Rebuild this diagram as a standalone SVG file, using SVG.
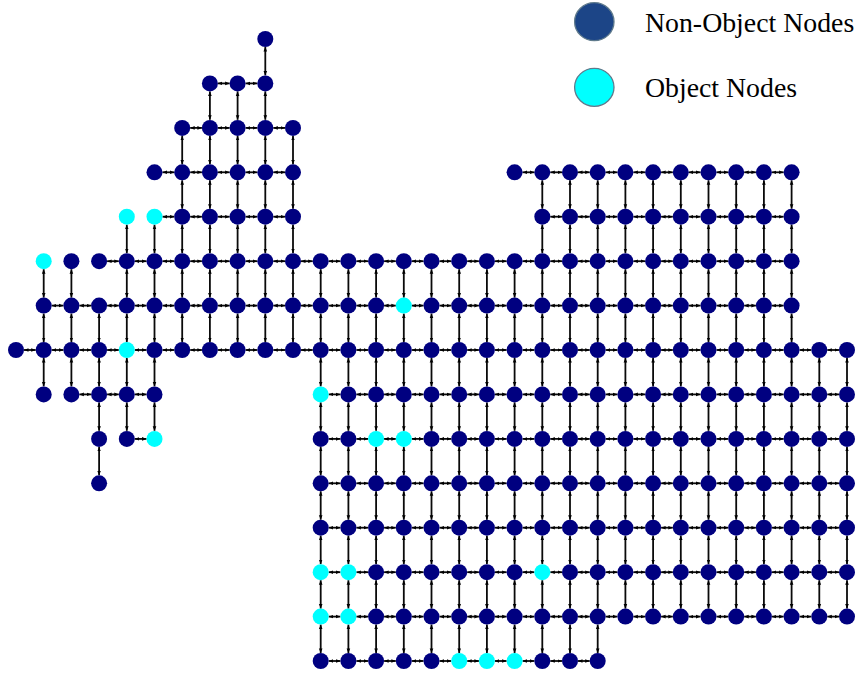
<svg xmlns="http://www.w3.org/2000/svg" width="857" height="675" viewBox="0 0 857 675">
<style>
.nd circle{fill:#000080}
.nd circle.o{fill:#00ffff}
#edges path{fill:none;stroke:#0a0a0a;stroke-width:1.8;marker-start:url(#ar);marker-end:url(#ar)}
.lg{font-family:"Liberation Serif","Times New Roman",serif;font-size:27.8px;fill:#000}
</style>
<defs>
<marker id="ar" viewBox="0 0 10 10" refX="10" refY="5" markerWidth="4.5" markerHeight="4.5" markerUnits="userSpaceOnUse" orient="auto-start-reverse"><path d="M0,1L10,5L0,9z" fill="#000"/></marker>
</defs>
<rect width="857" height="675" fill="#fff"/>
<g id="edges">
<g transform="translate(0,83.4)"><path d="M217.9 0h11.7"/><path d="M245.6 0h11.7"/></g>
<g transform="translate(0,127.9)"><path d="M190.2 0h11.7"/><path d="M217.9 0h11.7"/><path d="M245.6 0h11.7"/><path d="M273.3 0h11.7"/></g>
<g transform="translate(0,172.3)"><path d="M162.5 0h11.7"/><path d="M190.2 0h11.7"/><path d="M217.9 0h11.7"/><path d="M245.6 0h11.7"/><path d="M273.3 0h11.7"/><path d="M522.6 0h11.7"/><path d="M550.3 0h11.7"/><path d="M578 0h11.7"/><path d="M605.7 0h11.7"/><path d="M633.4 0h11.7"/><path d="M661.1 0h11.7"/><path d="M688.8 0h11.7"/><path d="M716.5 0h11.7"/><path d="M744.2 0h11.7"/><path d="M771.9 0h11.7"/></g>
<g transform="translate(0,216.7)"><path d="M162.5 0h11.7"/><path d="M190.2 0h11.7"/><path d="M217.9 0h11.7"/><path d="M245.6 0h11.7"/><path d="M273.3 0h11.7"/><path d="M550.3 0h11.7"/><path d="M578 0h11.7"/><path d="M605.7 0h11.7"/><path d="M633.4 0h11.7"/><path d="M661.1 0h11.7"/><path d="M688.8 0h11.7"/><path d="M716.5 0h11.7"/><path d="M744.2 0h11.7"/><path d="M771.9 0h11.7"/></g>
<g transform="translate(0,261.2)"><path d="M107.1 0h11.7"/><path d="M134.8 0h11.7"/><path d="M162.5 0h11.7"/><path d="M190.2 0h11.7"/><path d="M217.9 0h11.7"/><path d="M245.6 0h11.7"/><path d="M273.3 0h11.7"/><path d="M301 0h11.7"/><path d="M328.7 0h11.7"/><path d="M356.4 0h11.7"/><path d="M384.1 0h11.7"/><path d="M411.8 0h11.7"/><path d="M439.5 0h11.7"/><path d="M467.2 0h11.7"/><path d="M494.9 0h11.7"/><path d="M522.6 0h11.7"/><path d="M550.3 0h11.7"/><path d="M578 0h11.7"/><path d="M605.7 0h11.7"/><path d="M633.4 0h11.7"/><path d="M661.1 0h11.7"/><path d="M688.8 0h11.7"/><path d="M716.5 0h11.7"/><path d="M744.2 0h11.7"/><path d="M771.9 0h11.7"/></g>
<g transform="translate(0,305.6)"><path d="M51.7 0h11.7"/><path d="M79.4 0h11.7"/><path d="M107.1 0h11.7"/><path d="M134.8 0h11.7"/><path d="M162.5 0h11.7"/><path d="M190.2 0h11.7"/><path d="M217.9 0h11.7"/><path d="M245.6 0h11.7"/><path d="M273.3 0h11.7"/><path d="M301 0h11.7"/><path d="M328.7 0h11.7"/><path d="M356.4 0h11.7"/><path d="M384.1 0h11.7"/><path d="M411.8 0h11.7"/><path d="M439.5 0h11.7"/><path d="M467.2 0h11.7"/><path d="M494.9 0h11.7"/><path d="M522.6 0h11.7"/><path d="M550.3 0h11.7"/><path d="M578 0h11.7"/><path d="M605.7 0h11.7"/><path d="M633.4 0h11.7"/><path d="M661.1 0h11.7"/><path d="M688.8 0h11.7"/><path d="M716.5 0h11.7"/><path d="M744.2 0h11.7"/><path d="M771.9 0h11.7"/></g>
<g transform="translate(0,350)"><path d="M24 0h11.7"/><path d="M51.7 0h11.7"/><path d="M79.4 0h11.7"/><path d="M107.1 0h11.7"/><path d="M134.8 0h11.7"/><path d="M162.5 0h11.7"/><path d="M190.2 0h11.7"/><path d="M217.9 0h11.7"/><path d="M245.6 0h11.7"/><path d="M273.3 0h11.7"/><path d="M301 0h11.7"/><path d="M328.7 0h11.7"/><path d="M356.4 0h11.7"/><path d="M384.1 0h11.7"/><path d="M411.8 0h11.7"/><path d="M439.5 0h11.7"/><path d="M467.2 0h11.7"/><path d="M494.9 0h11.7"/><path d="M522.6 0h11.7"/><path d="M550.3 0h11.7"/><path d="M578 0h11.7"/><path d="M605.7 0h11.7"/><path d="M633.4 0h11.7"/><path d="M661.1 0h11.7"/><path d="M688.8 0h11.7"/><path d="M716.5 0h11.7"/><path d="M744.2 0h11.7"/><path d="M771.9 0h11.7"/><path d="M799.6 0h11.7"/><path d="M827.3 0h11.7"/></g>
<g transform="translate(0,394.4)"><path d="M79.4 0h11.7"/><path d="M107.1 0h11.7"/><path d="M134.8 0h11.7"/><path d="M328.7 0h11.7"/><path d="M356.4 0h11.7"/><path d="M384.1 0h11.7"/><path d="M411.8 0h11.7"/><path d="M439.5 0h11.7"/><path d="M467.2 0h11.7"/><path d="M494.9 0h11.7"/><path d="M522.6 0h11.7"/><path d="M550.3 0h11.7"/><path d="M578 0h11.7"/><path d="M605.7 0h11.7"/><path d="M633.4 0h11.7"/><path d="M661.1 0h11.7"/><path d="M688.8 0h11.7"/><path d="M716.5 0h11.7"/><path d="M744.2 0h11.7"/><path d="M771.9 0h11.7"/><path d="M799.6 0h11.7"/><path d="M827.3 0h11.7"/></g>
<g transform="translate(0,438.9)"><path d="M134.8 0h11.7"/><path d="M328.7 0h11.7"/><path d="M356.4 0h11.7"/><path d="M384.1 0h11.7"/><path d="M411.8 0h11.7"/><path d="M439.5 0h11.7"/><path d="M467.2 0h11.7"/><path d="M494.9 0h11.7"/><path d="M522.6 0h11.7"/><path d="M550.3 0h11.7"/><path d="M578 0h11.7"/><path d="M605.7 0h11.7"/><path d="M633.4 0h11.7"/><path d="M661.1 0h11.7"/><path d="M688.8 0h11.7"/><path d="M716.5 0h11.7"/><path d="M744.2 0h11.7"/><path d="M771.9 0h11.7"/><path d="M799.6 0h11.7"/><path d="M827.3 0h11.7"/></g>
<g transform="translate(0,483.3)"><path d="M328.7 0h11.7"/><path d="M356.4 0h11.7"/><path d="M384.1 0h11.7"/><path d="M411.8 0h11.7"/><path d="M439.5 0h11.7"/><path d="M467.2 0h11.7"/><path d="M494.9 0h11.7"/><path d="M522.6 0h11.7"/><path d="M550.3 0h11.7"/><path d="M578 0h11.7"/><path d="M605.7 0h11.7"/><path d="M633.4 0h11.7"/><path d="M661.1 0h11.7"/><path d="M688.8 0h11.7"/><path d="M716.5 0h11.7"/><path d="M744.2 0h11.7"/><path d="M771.9 0h11.7"/><path d="M799.6 0h11.7"/><path d="M827.3 0h11.7"/></g>
<g transform="translate(0,527.7)"><path d="M328.7 0h11.7"/><path d="M356.4 0h11.7"/><path d="M384.1 0h11.7"/><path d="M411.8 0h11.7"/><path d="M439.5 0h11.7"/><path d="M467.2 0h11.7"/><path d="M494.9 0h11.7"/><path d="M522.6 0h11.7"/><path d="M550.3 0h11.7"/><path d="M578 0h11.7"/><path d="M605.7 0h11.7"/><path d="M633.4 0h11.7"/><path d="M661.1 0h11.7"/><path d="M688.8 0h11.7"/><path d="M716.5 0h11.7"/><path d="M744.2 0h11.7"/><path d="M771.9 0h11.7"/><path d="M799.6 0h11.7"/><path d="M827.3 0h11.7"/></g>
<g transform="translate(0,572.2)"><path d="M328.7 0h11.7"/><path d="M356.4 0h11.7"/><path d="M384.1 0h11.7"/><path d="M411.8 0h11.7"/><path d="M439.5 0h11.7"/><path d="M467.2 0h11.7"/><path d="M494.9 0h11.7"/><path d="M522.6 0h11.7"/><path d="M550.3 0h11.7"/><path d="M578 0h11.7"/><path d="M605.7 0h11.7"/><path d="M633.4 0h11.7"/><path d="M661.1 0h11.7"/><path d="M688.8 0h11.7"/><path d="M716.5 0h11.7"/><path d="M744.2 0h11.7"/><path d="M771.9 0h11.7"/><path d="M799.6 0h11.7"/><path d="M827.3 0h11.7"/></g>
<g transform="translate(0,616.6)"><path d="M328.7 0h11.7"/><path d="M356.4 0h11.7"/><path d="M384.1 0h11.7"/><path d="M411.8 0h11.7"/><path d="M439.5 0h11.7"/><path d="M467.2 0h11.7"/><path d="M494.9 0h11.7"/><path d="M522.6 0h11.7"/><path d="M550.3 0h11.7"/><path d="M578 0h11.7"/><path d="M605.7 0h11.7"/><path d="M633.4 0h11.7"/><path d="M661.1 0h11.7"/><path d="M688.8 0h11.7"/><path d="M716.5 0h11.7"/><path d="M744.2 0h11.7"/><path d="M771.9 0h11.7"/><path d="M799.6 0h11.7"/><path d="M827.3 0h11.7"/></g>
<g transform="translate(0,661)"><path d="M328.7 0h11.7"/><path d="M356.4 0h11.7"/><path d="M384.1 0h11.7"/><path d="M411.8 0h11.7"/><path d="M439.5 0h11.7"/><path d="M467.2 0h11.7"/><path d="M494.9 0h11.7"/><path d="M522.6 0h11.7"/><path d="M550.3 0h11.7"/><path d="M578 0h11.7"/></g>
<g transform="translate(0,47)"><path d="M265.3 0v28.4"/></g>
<g transform="translate(0,91.4)"><path d="M209.9 0v28.4"/><path d="M237.6 0v28.4"/><path d="M265.3 0v28.4"/></g>
<g transform="translate(0,135.9)"><path d="M182.2 0v28.4"/><path d="M209.9 0v28.4"/><path d="M237.6 0v28.4"/><path d="M265.3 0v28.4"/><path d="M293 0v28.4"/></g>
<g transform="translate(0,180.3)"><path d="M182.2 0v28.4"/><path d="M209.9 0v28.4"/><path d="M237.6 0v28.4"/><path d="M265.3 0v28.4"/><path d="M293 0v28.4"/><path d="M542.3 0v28.4"/><path d="M570 0v28.4"/><path d="M597.7 0v28.4"/><path d="M625.4 0v28.4"/><path d="M653.1 0v28.4"/><path d="M680.8 0v28.4"/><path d="M708.5 0v28.4"/><path d="M736.2 0v28.4"/><path d="M763.9 0v28.4"/><path d="M791.6 0v28.4"/></g>
<g transform="translate(0,224.7)"><path d="M126.8 0v28.4"/><path d="M154.5 0v28.4"/><path d="M182.2 0v28.4"/><path d="M209.9 0v28.4"/><path d="M237.6 0v28.4"/><path d="M265.3 0v28.4"/><path d="M293 0v28.4"/><path d="M542.3 0v28.4"/><path d="M570 0v28.4"/><path d="M597.7 0v28.4"/><path d="M625.4 0v28.4"/><path d="M653.1 0v28.4"/><path d="M680.8 0v28.4"/><path d="M708.5 0v28.4"/><path d="M736.2 0v28.4"/><path d="M763.9 0v28.4"/><path d="M791.6 0v28.4"/></g>
<g transform="translate(0,269.2)"><path d="M43.7 0v28.4"/><path d="M71.4 0v28.4"/><path d="M126.8 0v28.4"/><path d="M154.5 0v28.4"/><path d="M182.2 0v28.4"/><path d="M209.9 0v28.4"/><path d="M237.6 0v28.4"/><path d="M265.3 0v28.4"/><path d="M293 0v28.4"/><path d="M320.7 0v28.4"/><path d="M348.4 0v28.4"/><path d="M376.1 0v28.4"/><path d="M403.8 0v28.4"/><path d="M431.5 0v28.4"/><path d="M459.2 0v28.4"/><path d="M486.9 0v28.4"/><path d="M514.6 0v28.4"/><path d="M542.3 0v28.4"/><path d="M570 0v28.4"/><path d="M597.7 0v28.4"/><path d="M625.4 0v28.4"/><path d="M653.1 0v28.4"/><path d="M680.8 0v28.4"/><path d="M708.5 0v28.4"/><path d="M736.2 0v28.4"/><path d="M763.9 0v28.4"/><path d="M791.6 0v28.4"/></g>
<g transform="translate(0,313.6)"><path d="M43.7 0v28.4"/><path d="M71.4 0v28.4"/><path d="M99.1 0v28.4"/><path d="M126.8 0v28.4"/><path d="M154.5 0v28.4"/><path d="M182.2 0v28.4"/><path d="M209.9 0v28.4"/><path d="M237.6 0v28.4"/><path d="M265.3 0v28.4"/><path d="M293 0v28.4"/><path d="M320.7 0v28.4"/><path d="M348.4 0v28.4"/><path d="M376.1 0v28.4"/><path d="M403.8 0v28.4"/><path d="M431.5 0v28.4"/><path d="M459.2 0v28.4"/><path d="M486.9 0v28.4"/><path d="M514.6 0v28.4"/><path d="M542.3 0v28.4"/><path d="M570 0v28.4"/><path d="M597.7 0v28.4"/><path d="M625.4 0v28.4"/><path d="M653.1 0v28.4"/><path d="M680.8 0v28.4"/><path d="M708.5 0v28.4"/><path d="M736.2 0v28.4"/><path d="M763.9 0v28.4"/><path d="M791.6 0v28.4"/></g>
<g transform="translate(0,358)"><path d="M43.7 0v28.4"/><path d="M71.4 0v28.4"/><path d="M99.1 0v28.4"/><path d="M126.8 0v28.4"/><path d="M154.5 0v28.4"/><path d="M320.7 0v28.4"/><path d="M348.4 0v28.4"/><path d="M376.1 0v28.4"/><path d="M403.8 0v28.4"/><path d="M431.5 0v28.4"/><path d="M459.2 0v28.4"/><path d="M486.9 0v28.4"/><path d="M514.6 0v28.4"/><path d="M542.3 0v28.4"/><path d="M570 0v28.4"/><path d="M597.7 0v28.4"/><path d="M625.4 0v28.4"/><path d="M653.1 0v28.4"/><path d="M680.8 0v28.4"/><path d="M708.5 0v28.4"/><path d="M736.2 0v28.4"/><path d="M763.9 0v28.4"/><path d="M791.6 0v28.4"/><path d="M819.3 0v28.4"/><path d="M847 0v28.4"/></g>
<g transform="translate(0,402.4)"><path d="M99.1 0v28.4"/><path d="M126.8 0v28.4"/><path d="M154.5 0v28.4"/><path d="M320.7 0v28.4"/><path d="M348.4 0v28.4"/><path d="M376.1 0v28.4"/><path d="M403.8 0v28.4"/><path d="M431.5 0v28.4"/><path d="M459.2 0v28.4"/><path d="M486.9 0v28.4"/><path d="M514.6 0v28.4"/><path d="M542.3 0v28.4"/><path d="M570 0v28.4"/><path d="M597.7 0v28.4"/><path d="M625.4 0v28.4"/><path d="M653.1 0v28.4"/><path d="M680.8 0v28.4"/><path d="M708.5 0v28.4"/><path d="M736.2 0v28.4"/><path d="M763.9 0v28.4"/><path d="M791.6 0v28.4"/><path d="M819.3 0v28.4"/><path d="M847 0v28.4"/></g>
<g transform="translate(0,446.9)"><path d="M99.1 0v28.4"/><path d="M320.7 0v28.4"/><path d="M348.4 0v28.4"/><path d="M376.1 0v28.4"/><path d="M403.8 0v28.4"/><path d="M431.5 0v28.4"/><path d="M459.2 0v28.4"/><path d="M486.9 0v28.4"/><path d="M514.6 0v28.4"/><path d="M542.3 0v28.4"/><path d="M570 0v28.4"/><path d="M597.7 0v28.4"/><path d="M625.4 0v28.4"/><path d="M653.1 0v28.4"/><path d="M680.8 0v28.4"/><path d="M708.5 0v28.4"/><path d="M736.2 0v28.4"/><path d="M763.9 0v28.4"/><path d="M791.6 0v28.4"/><path d="M819.3 0v28.4"/><path d="M847 0v28.4"/></g>
<g transform="translate(0,491.3)"><path d="M320.7 0v28.4"/><path d="M348.4 0v28.4"/><path d="M376.1 0v28.4"/><path d="M403.8 0v28.4"/><path d="M431.5 0v28.4"/><path d="M459.2 0v28.4"/><path d="M486.9 0v28.4"/><path d="M514.6 0v28.4"/><path d="M542.3 0v28.4"/><path d="M570 0v28.4"/><path d="M597.7 0v28.4"/><path d="M625.4 0v28.4"/><path d="M653.1 0v28.4"/><path d="M680.8 0v28.4"/><path d="M708.5 0v28.4"/><path d="M736.2 0v28.4"/><path d="M763.9 0v28.4"/><path d="M791.6 0v28.4"/><path d="M819.3 0v28.4"/><path d="M847 0v28.4"/></g>
<g transform="translate(0,535.7)"><path d="M320.7 0v28.4"/><path d="M348.4 0v28.4"/><path d="M376.1 0v28.4"/><path d="M403.8 0v28.4"/><path d="M431.5 0v28.4"/><path d="M459.2 0v28.4"/><path d="M486.9 0v28.4"/><path d="M514.6 0v28.4"/><path d="M542.3 0v28.4"/><path d="M570 0v28.4"/><path d="M597.7 0v28.4"/><path d="M625.4 0v28.4"/><path d="M653.1 0v28.4"/><path d="M680.8 0v28.4"/><path d="M708.5 0v28.4"/><path d="M736.2 0v28.4"/><path d="M763.9 0v28.4"/><path d="M791.6 0v28.4"/><path d="M819.3 0v28.4"/><path d="M847 0v28.4"/></g>
<g transform="translate(0,580.2)"><path d="M320.7 0v28.4"/><path d="M348.4 0v28.4"/><path d="M376.1 0v28.4"/><path d="M403.8 0v28.4"/><path d="M431.5 0v28.4"/><path d="M459.2 0v28.4"/><path d="M486.9 0v28.4"/><path d="M514.6 0v28.4"/><path d="M542.3 0v28.4"/><path d="M570 0v28.4"/><path d="M597.7 0v28.4"/><path d="M625.4 0v28.4"/><path d="M653.1 0v28.4"/><path d="M680.8 0v28.4"/><path d="M708.5 0v28.4"/><path d="M736.2 0v28.4"/><path d="M763.9 0v28.4"/><path d="M791.6 0v28.4"/><path d="M819.3 0v28.4"/><path d="M847 0v28.4"/></g>
<g transform="translate(0,624.6)"><path d="M320.7 0v28.4"/><path d="M348.4 0v28.4"/><path d="M376.1 0v28.4"/><path d="M403.8 0v28.4"/><path d="M431.5 0v28.4"/><path d="M459.2 0v28.4"/><path d="M486.9 0v28.4"/><path d="M514.6 0v28.4"/><path d="M542.3 0v28.4"/><path d="M570 0v28.4"/><path d="M597.7 0v28.4"/></g>
</g>
<g class="nd">
<g id="n9_0"><circle cx="265.3" cy="39" r="8"/></g>
<g id="n7_1"><circle cx="209.9" cy="83.4" r="8"/></g><g id="n8_1"><circle cx="237.6" cy="83.4" r="8"/></g><g id="n9_1"><circle cx="265.3" cy="83.4" r="8"/></g>
<g id="n6_2"><circle cx="182.2" cy="127.9" r="8"/></g><g id="n7_2"><circle cx="209.9" cy="127.9" r="8"/></g><g id="n8_2"><circle cx="237.6" cy="127.9" r="8"/></g><g id="n9_2"><circle cx="265.3" cy="127.9" r="8"/></g><g id="n10_2"><circle cx="293" cy="127.9" r="8"/></g>
<g id="n5_3"><circle cx="154.5" cy="172.3" r="8"/></g><g id="n6_3"><circle cx="182.2" cy="172.3" r="8"/></g><g id="n7_3"><circle cx="209.9" cy="172.3" r="8"/></g><g id="n8_3"><circle cx="237.6" cy="172.3" r="8"/></g><g id="n9_3"><circle cx="265.3" cy="172.3" r="8"/></g><g id="n10_3"><circle cx="293" cy="172.3" r="8"/></g>
<g id="n18_3"><circle cx="514.6" cy="172.3" r="8"/></g><g id="n19_3"><circle cx="542.3" cy="172.3" r="8"/></g><g id="n20_3"><circle cx="570" cy="172.3" r="8"/></g><g id="n21_3"><circle cx="597.7" cy="172.3" r="8"/></g><g id="n22_3"><circle cx="625.4" cy="172.3" r="8"/></g><g id="n23_3"><circle cx="653.1" cy="172.3" r="8"/></g><g id="n24_3"><circle cx="680.8" cy="172.3" r="8"/></g><g id="n25_3"><circle cx="708.5" cy="172.3" r="8"/></g><g id="n26_3"><circle cx="736.2" cy="172.3" r="8"/></g><g id="n27_3"><circle cx="763.9" cy="172.3" r="8"/></g><g id="n28_3"><circle cx="791.6" cy="172.3" r="8"/></g>
<g id="n4_4"><circle class="o" cx="126.8" cy="216.7" r="8"/></g><g id="n5_4"><circle class="o" cx="154.5" cy="216.7" r="8"/></g><g id="n6_4"><circle cx="182.2" cy="216.7" r="8"/></g><g id="n7_4"><circle cx="209.9" cy="216.7" r="8"/></g><g id="n8_4"><circle cx="237.6" cy="216.7" r="8"/></g><g id="n9_4"><circle cx="265.3" cy="216.7" r="8"/></g><g id="n10_4"><circle cx="293" cy="216.7" r="8"/></g>
<g id="n19_4"><circle cx="542.3" cy="216.7" r="8"/></g><g id="n20_4"><circle cx="570" cy="216.7" r="8"/></g><g id="n21_4"><circle cx="597.7" cy="216.7" r="8"/></g><g id="n22_4"><circle cx="625.4" cy="216.7" r="8"/></g><g id="n23_4"><circle cx="653.1" cy="216.7" r="8"/></g><g id="n24_4"><circle cx="680.8" cy="216.7" r="8"/></g><g id="n25_4"><circle cx="708.5" cy="216.7" r="8"/></g><g id="n26_4"><circle cx="736.2" cy="216.7" r="8"/></g><g id="n27_4"><circle cx="763.9" cy="216.7" r="8"/></g><g id="n28_4"><circle cx="791.6" cy="216.7" r="8"/></g>
<g id="n1_5"><circle class="o" cx="43.7" cy="261.2" r="8"/></g><g id="n2_5"><circle cx="71.4" cy="261.2" r="8"/></g><g id="n3_5"><circle cx="99.1" cy="261.2" r="8"/></g><g id="n4_5"><circle cx="126.8" cy="261.2" r="8"/></g><g id="n5_5"><circle cx="154.5" cy="261.2" r="8"/></g><g id="n6_5"><circle cx="182.2" cy="261.2" r="8"/></g><g id="n7_5"><circle cx="209.9" cy="261.2" r="8"/></g><g id="n8_5"><circle cx="237.6" cy="261.2" r="8"/></g><g id="n9_5"><circle cx="265.3" cy="261.2" r="8"/></g><g id="n10_5"><circle cx="293" cy="261.2" r="8"/></g><g id="n11_5"><circle cx="320.7" cy="261.2" r="8"/></g><g id="n12_5"><circle cx="348.4" cy="261.2" r="8"/></g><g id="n13_5"><circle cx="376.1" cy="261.2" r="8"/></g><g id="n14_5"><circle cx="403.8" cy="261.2" r="8"/></g><g id="n15_5"><circle cx="431.5" cy="261.2" r="8"/></g><g id="n16_5"><circle cx="459.2" cy="261.2" r="8"/></g><g id="n17_5"><circle cx="486.9" cy="261.2" r="8"/></g><g id="n18_5"><circle cx="514.6" cy="261.2" r="8"/></g><g id="n19_5"><circle cx="542.3" cy="261.2" r="8"/></g><g id="n20_5"><circle cx="570" cy="261.2" r="8"/></g><g id="n21_5"><circle cx="597.7" cy="261.2" r="8"/></g><g id="n22_5"><circle cx="625.4" cy="261.2" r="8"/></g><g id="n23_5"><circle cx="653.1" cy="261.2" r="8"/></g><g id="n24_5"><circle cx="680.8" cy="261.2" r="8"/></g><g id="n25_5"><circle cx="708.5" cy="261.2" r="8"/></g><g id="n26_5"><circle cx="736.2" cy="261.2" r="8"/></g><g id="n27_5"><circle cx="763.9" cy="261.2" r="8"/></g><g id="n28_5"><circle cx="791.6" cy="261.2" r="8"/></g>
<g id="n1_6"><circle cx="43.7" cy="305.6" r="8"/></g><g id="n2_6"><circle cx="71.4" cy="305.6" r="8"/></g><g id="n3_6"><circle cx="99.1" cy="305.6" r="8"/></g><g id="n4_6"><circle cx="126.8" cy="305.6" r="8"/></g><g id="n5_6"><circle cx="154.5" cy="305.6" r="8"/></g><g id="n6_6"><circle cx="182.2" cy="305.6" r="8"/></g><g id="n7_6"><circle cx="209.9" cy="305.6" r="8"/></g><g id="n8_6"><circle cx="237.6" cy="305.6" r="8"/></g><g id="n9_6"><circle cx="265.3" cy="305.6" r="8"/></g><g id="n10_6"><circle cx="293" cy="305.6" r="8"/></g><g id="n11_6"><circle cx="320.7" cy="305.6" r="8"/></g><g id="n12_6"><circle cx="348.4" cy="305.6" r="8"/></g><g id="n13_6"><circle cx="376.1" cy="305.6" r="8"/></g><g id="n14_6"><circle class="o" cx="403.8" cy="305.6" r="8"/></g><g id="n15_6"><circle cx="431.5" cy="305.6" r="8"/></g><g id="n16_6"><circle cx="459.2" cy="305.6" r="8"/></g><g id="n17_6"><circle cx="486.9" cy="305.6" r="8"/></g><g id="n18_6"><circle cx="514.6" cy="305.6" r="8"/></g><g id="n19_6"><circle cx="542.3" cy="305.6" r="8"/></g><g id="n20_6"><circle cx="570" cy="305.6" r="8"/></g><g id="n21_6"><circle cx="597.7" cy="305.6" r="8"/></g><g id="n22_6"><circle cx="625.4" cy="305.6" r="8"/></g><g id="n23_6"><circle cx="653.1" cy="305.6" r="8"/></g><g id="n24_6"><circle cx="680.8" cy="305.6" r="8"/></g><g id="n25_6"><circle cx="708.5" cy="305.6" r="8"/></g><g id="n26_6"><circle cx="736.2" cy="305.6" r="8"/></g><g id="n27_6"><circle cx="763.9" cy="305.6" r="8"/></g><g id="n28_6"><circle cx="791.6" cy="305.6" r="8"/></g>
<g id="n0_7"><circle cx="16" cy="350" r="8"/></g><g id="n1_7"><circle cx="43.7" cy="350" r="8"/></g><g id="n2_7"><circle cx="71.4" cy="350" r="8"/></g><g id="n3_7"><circle cx="99.1" cy="350" r="8"/></g><g id="n4_7"><circle class="o" cx="126.8" cy="350" r="8"/></g><g id="n5_7"><circle cx="154.5" cy="350" r="8"/></g><g id="n6_7"><circle cx="182.2" cy="350" r="8"/></g><g id="n7_7"><circle cx="209.9" cy="350" r="8"/></g><g id="n8_7"><circle cx="237.6" cy="350" r="8"/></g><g id="n9_7"><circle cx="265.3" cy="350" r="8"/></g><g id="n10_7"><circle cx="293" cy="350" r="8"/></g><g id="n11_7"><circle cx="320.7" cy="350" r="8"/></g><g id="n12_7"><circle cx="348.4" cy="350" r="8"/></g><g id="n13_7"><circle cx="376.1" cy="350" r="8"/></g><g id="n14_7"><circle cx="403.8" cy="350" r="8"/></g><g id="n15_7"><circle cx="431.5" cy="350" r="8"/></g><g id="n16_7"><circle cx="459.2" cy="350" r="8"/></g><g id="n17_7"><circle cx="486.9" cy="350" r="8"/></g><g id="n18_7"><circle cx="514.6" cy="350" r="8"/></g><g id="n19_7"><circle cx="542.3" cy="350" r="8"/></g><g id="n20_7"><circle cx="570" cy="350" r="8"/></g><g id="n21_7"><circle cx="597.7" cy="350" r="8"/></g><g id="n22_7"><circle cx="625.4" cy="350" r="8"/></g><g id="n23_7"><circle cx="653.1" cy="350" r="8"/></g><g id="n24_7"><circle cx="680.8" cy="350" r="8"/></g><g id="n25_7"><circle cx="708.5" cy="350" r="8"/></g><g id="n26_7"><circle cx="736.2" cy="350" r="8"/></g><g id="n27_7"><circle cx="763.9" cy="350" r="8"/></g><g id="n28_7"><circle cx="791.6" cy="350" r="8"/></g><g id="n29_7"><circle cx="819.3" cy="350" r="8"/></g><g id="n30_7"><circle cx="847" cy="350" r="8"/></g>
<g id="n1_8"><circle cx="43.7" cy="394.4" r="8"/></g><g id="n2_8"><circle cx="71.4" cy="394.4" r="8"/></g><g id="n3_8"><circle cx="99.1" cy="394.4" r="8"/></g><g id="n4_8"><circle cx="126.8" cy="394.4" r="8"/></g><g id="n5_8"><circle cx="154.5" cy="394.4" r="8"/></g><g id="n11_8"><circle class="o" cx="320.7" cy="394.4" r="8"/></g><g id="n12_8"><circle cx="348.4" cy="394.4" r="8"/></g><g id="n13_8"><circle cx="376.1" cy="394.4" r="8"/></g><g id="n14_8"><circle cx="403.8" cy="394.4" r="8"/></g><g id="n15_8"><circle cx="431.5" cy="394.4" r="8"/></g><g id="n16_8"><circle cx="459.2" cy="394.4" r="8"/></g><g id="n17_8"><circle cx="486.9" cy="394.4" r="8"/></g><g id="n18_8"><circle cx="514.6" cy="394.4" r="8"/></g><g id="n19_8"><circle cx="542.3" cy="394.4" r="8"/></g><g id="n20_8"><circle cx="570" cy="394.4" r="8"/></g><g id="n21_8"><circle cx="597.7" cy="394.4" r="8"/></g><g id="n22_8"><circle cx="625.4" cy="394.4" r="8"/></g><g id="n23_8"><circle cx="653.1" cy="394.4" r="8"/></g><g id="n24_8"><circle cx="680.8" cy="394.4" r="8"/></g><g id="n25_8"><circle cx="708.5" cy="394.4" r="8"/></g><g id="n26_8"><circle cx="736.2" cy="394.4" r="8"/></g><g id="n27_8"><circle cx="763.9" cy="394.4" r="8"/></g><g id="n28_8"><circle cx="791.6" cy="394.4" r="8"/></g><g id="n29_8"><circle cx="819.3" cy="394.4" r="8"/></g><g id="n30_8"><circle cx="847" cy="394.4" r="8"/></g>
<g id="n3_9"><circle cx="99.1" cy="438.9" r="8"/></g><g id="n4_9"><circle cx="126.8" cy="438.9" r="8"/></g><g id="n5_9"><circle class="o" cx="154.5" cy="438.9" r="8"/></g><g id="n11_9"><circle cx="320.7" cy="438.9" r="8"/></g><g id="n12_9"><circle cx="348.4" cy="438.9" r="8"/></g><g id="n13_9"><circle class="o" cx="376.1" cy="438.9" r="8"/></g><g id="n14_9"><circle class="o" cx="403.8" cy="438.9" r="8"/></g><g id="n15_9"><circle cx="431.5" cy="438.9" r="8"/></g><g id="n16_9"><circle cx="459.2" cy="438.9" r="8"/></g><g id="n17_9"><circle cx="486.9" cy="438.9" r="8"/></g><g id="n18_9"><circle cx="514.6" cy="438.9" r="8"/></g><g id="n19_9"><circle cx="542.3" cy="438.9" r="8"/></g><g id="n20_9"><circle cx="570" cy="438.9" r="8"/></g><g id="n21_9"><circle cx="597.7" cy="438.9" r="8"/></g><g id="n22_9"><circle cx="625.4" cy="438.9" r="8"/></g><g id="n23_9"><circle cx="653.1" cy="438.9" r="8"/></g><g id="n24_9"><circle cx="680.8" cy="438.9" r="8"/></g><g id="n25_9"><circle cx="708.5" cy="438.9" r="8"/></g><g id="n26_9"><circle cx="736.2" cy="438.9" r="8"/></g><g id="n27_9"><circle cx="763.9" cy="438.9" r="8"/></g><g id="n28_9"><circle cx="791.6" cy="438.9" r="8"/></g><g id="n29_9"><circle cx="819.3" cy="438.9" r="8"/></g><g id="n30_9"><circle cx="847" cy="438.9" r="8"/></g>
<g id="n3_10"><circle cx="99.1" cy="483.3" r="8"/></g><g id="n11_10"><circle cx="320.7" cy="483.3" r="8"/></g><g id="n12_10"><circle cx="348.4" cy="483.3" r="8"/></g><g id="n13_10"><circle cx="376.1" cy="483.3" r="8"/></g><g id="n14_10"><circle cx="403.8" cy="483.3" r="8"/></g><g id="n15_10"><circle cx="431.5" cy="483.3" r="8"/></g><g id="n16_10"><circle cx="459.2" cy="483.3" r="8"/></g><g id="n17_10"><circle cx="486.9" cy="483.3" r="8"/></g><g id="n18_10"><circle cx="514.6" cy="483.3" r="8"/></g><g id="n19_10"><circle cx="542.3" cy="483.3" r="8"/></g><g id="n20_10"><circle cx="570" cy="483.3" r="8"/></g><g id="n21_10"><circle cx="597.7" cy="483.3" r="8"/></g><g id="n22_10"><circle cx="625.4" cy="483.3" r="8"/></g><g id="n23_10"><circle cx="653.1" cy="483.3" r="8"/></g><g id="n24_10"><circle cx="680.8" cy="483.3" r="8"/></g><g id="n25_10"><circle cx="708.5" cy="483.3" r="8"/></g><g id="n26_10"><circle cx="736.2" cy="483.3" r="8"/></g><g id="n27_10"><circle cx="763.9" cy="483.3" r="8"/></g><g id="n28_10"><circle cx="791.6" cy="483.3" r="8"/></g><g id="n29_10"><circle cx="819.3" cy="483.3" r="8"/></g><g id="n30_10"><circle cx="847" cy="483.3" r="8"/></g>
<g id="n11_11"><circle cx="320.7" cy="527.7" r="8"/></g><g id="n12_11"><circle cx="348.4" cy="527.7" r="8"/></g><g id="n13_11"><circle cx="376.1" cy="527.7" r="8"/></g><g id="n14_11"><circle cx="403.8" cy="527.7" r="8"/></g><g id="n15_11"><circle cx="431.5" cy="527.7" r="8"/></g><g id="n16_11"><circle cx="459.2" cy="527.7" r="8"/></g><g id="n17_11"><circle cx="486.9" cy="527.7" r="8"/></g><g id="n18_11"><circle cx="514.6" cy="527.7" r="8"/></g><g id="n19_11"><circle cx="542.3" cy="527.7" r="8"/></g><g id="n20_11"><circle cx="570" cy="527.7" r="8"/></g><g id="n21_11"><circle cx="597.7" cy="527.7" r="8"/></g><g id="n22_11"><circle cx="625.4" cy="527.7" r="8"/></g><g id="n23_11"><circle cx="653.1" cy="527.7" r="8"/></g><g id="n24_11"><circle cx="680.8" cy="527.7" r="8"/></g><g id="n25_11"><circle cx="708.5" cy="527.7" r="8"/></g><g id="n26_11"><circle cx="736.2" cy="527.7" r="8"/></g><g id="n27_11"><circle cx="763.9" cy="527.7" r="8"/></g><g id="n28_11"><circle cx="791.6" cy="527.7" r="8"/></g><g id="n29_11"><circle cx="819.3" cy="527.7" r="8"/></g><g id="n30_11"><circle cx="847" cy="527.7" r="8"/></g>
<g id="n11_12"><circle class="o" cx="320.7" cy="572.2" r="8"/></g><g id="n12_12"><circle class="o" cx="348.4" cy="572.2" r="8"/></g><g id="n13_12"><circle cx="376.1" cy="572.2" r="8"/></g><g id="n14_12"><circle cx="403.8" cy="572.2" r="8"/></g><g id="n15_12"><circle cx="431.5" cy="572.2" r="8"/></g><g id="n16_12"><circle cx="459.2" cy="572.2" r="8"/></g><g id="n17_12"><circle cx="486.9" cy="572.2" r="8"/></g><g id="n18_12"><circle cx="514.6" cy="572.2" r="8"/></g><g id="n19_12"><circle class="o" cx="542.3" cy="572.2" r="8"/></g><g id="n20_12"><circle cx="570" cy="572.2" r="8"/></g><g id="n21_12"><circle cx="597.7" cy="572.2" r="8"/></g><g id="n22_12"><circle cx="625.4" cy="572.2" r="8"/></g><g id="n23_12"><circle cx="653.1" cy="572.2" r="8"/></g><g id="n24_12"><circle cx="680.8" cy="572.2" r="8"/></g><g id="n25_12"><circle cx="708.5" cy="572.2" r="8"/></g><g id="n26_12"><circle cx="736.2" cy="572.2" r="8"/></g><g id="n27_12"><circle cx="763.9" cy="572.2" r="8"/></g><g id="n28_12"><circle cx="791.6" cy="572.2" r="8"/></g><g id="n29_12"><circle cx="819.3" cy="572.2" r="8"/></g><g id="n30_12"><circle cx="847" cy="572.2" r="8"/></g>
<g id="n11_13"><circle class="o" cx="320.7" cy="616.6" r="8"/></g><g id="n12_13"><circle class="o" cx="348.4" cy="616.6" r="8"/></g><g id="n13_13"><circle cx="376.1" cy="616.6" r="8"/></g><g id="n14_13"><circle cx="403.8" cy="616.6" r="8"/></g><g id="n15_13"><circle cx="431.5" cy="616.6" r="8"/></g><g id="n16_13"><circle cx="459.2" cy="616.6" r="8"/></g><g id="n17_13"><circle cx="486.9" cy="616.6" r="8"/></g><g id="n18_13"><circle cx="514.6" cy="616.6" r="8"/></g><g id="n19_13"><circle cx="542.3" cy="616.6" r="8"/></g><g id="n20_13"><circle cx="570" cy="616.6" r="8"/></g><g id="n21_13"><circle cx="597.7" cy="616.6" r="8"/></g><g id="n22_13"><circle cx="625.4" cy="616.6" r="8"/></g><g id="n23_13"><circle cx="653.1" cy="616.6" r="8"/></g><g id="n24_13"><circle cx="680.8" cy="616.6" r="8"/></g><g id="n25_13"><circle cx="708.5" cy="616.6" r="8"/></g><g id="n26_13"><circle cx="736.2" cy="616.6" r="8"/></g><g id="n27_13"><circle cx="763.9" cy="616.6" r="8"/></g><g id="n28_13"><circle cx="791.6" cy="616.6" r="8"/></g><g id="n29_13"><circle cx="819.3" cy="616.6" r="8"/></g><g id="n30_13"><circle cx="847" cy="616.6" r="8"/></g>
<g id="n11_14"><circle cx="320.7" cy="661" r="8"/></g><g id="n12_14"><circle cx="348.4" cy="661" r="8"/></g><g id="n13_14"><circle cx="376.1" cy="661" r="8"/></g><g id="n14_14"><circle cx="403.8" cy="661" r="8"/></g><g id="n15_14"><circle cx="431.5" cy="661" r="8"/></g><g id="n16_14"><circle class="o" cx="459.2" cy="661" r="8"/></g><g id="n17_14"><circle class="o" cx="486.9" cy="661" r="8"/></g><g id="n18_14"><circle class="o" cx="514.6" cy="661" r="8"/></g><g id="n19_14"><circle cx="542.3" cy="661" r="8"/></g><g id="n20_14"><circle cx="570" cy="661" r="8"/></g><g id="n21_14"><circle cx="597.7" cy="661" r="8"/></g>
</g>
<g id="legend">
<ellipse cx="594.3" cy="21.7" rx="19.7" ry="19" fill="#1c4587" stroke="#5f7a8c" stroke-width="1.3"/>
<ellipse cx="594.3" cy="87.3" rx="19.7" ry="19" fill="#00ffff" stroke="#5f7a8c" stroke-width="1.3"/>
<text class="lg" x="645" y="31.5">Non-Object Nodes</text>
<text class="lg" x="645" y="96.5">Object Nodes</text>
</g>
</svg>
